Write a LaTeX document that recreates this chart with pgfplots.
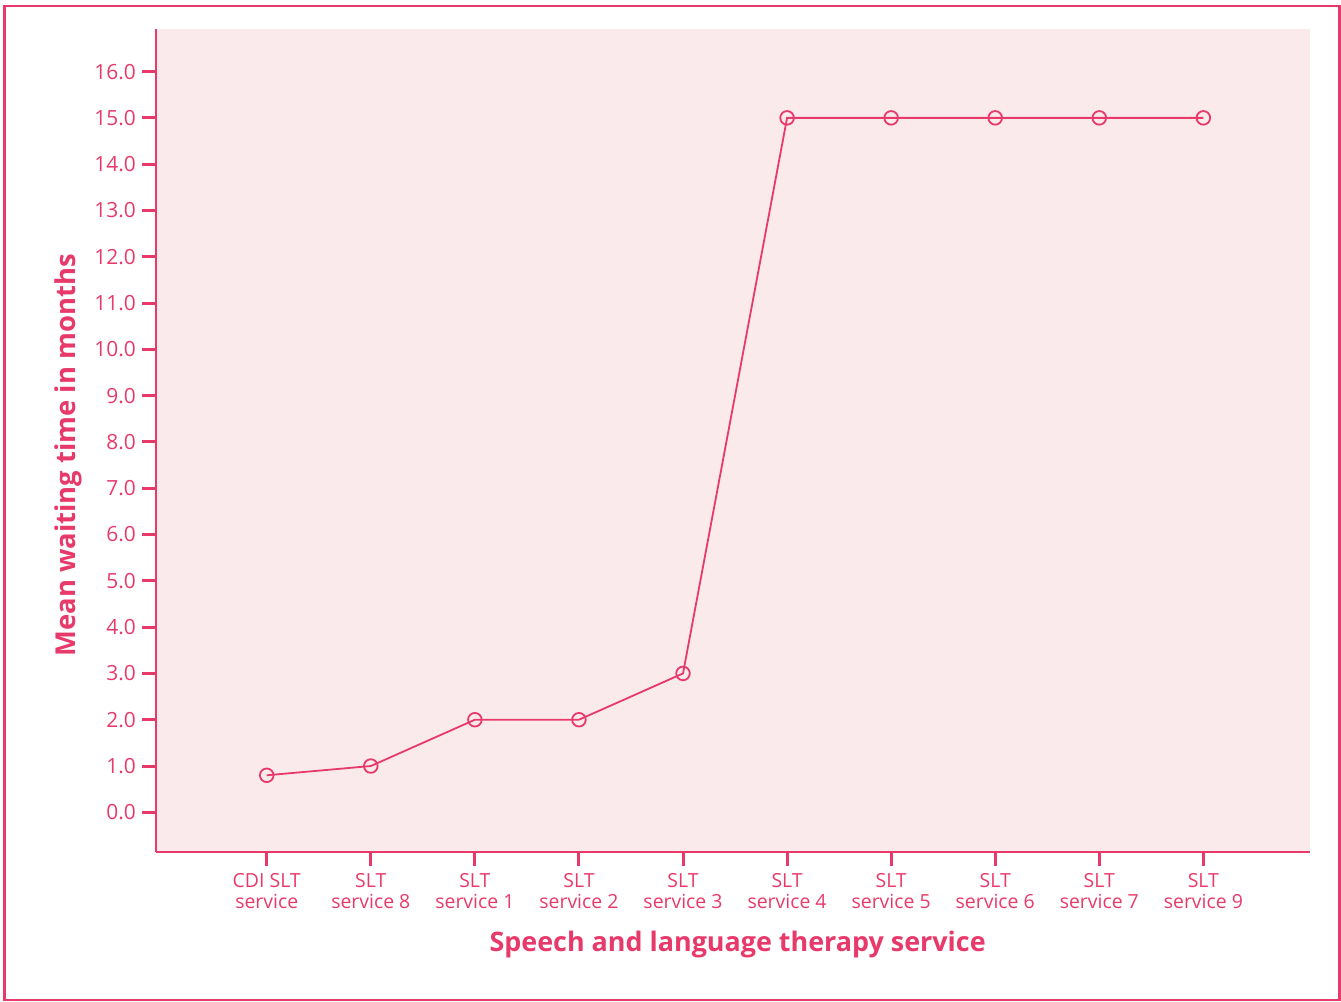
\documentclass[border=0pt]{standalone}
\usepackage{pgfplots}
\pgfplotsset{compat=1.18}
\usepackage{fontspec}
\setmainfont{Open Sans}
\definecolor{main}{RGB}{232,58,106}
\definecolor{bgpink}{RGB}{250,234,236}
\begin{document}
\begin{tikzpicture}[x=1bp,y=1bp]
\useasboundingbox (0,0) rectangle (1341,1001);
\draw[main, line width=2.5bp] (4.5,1) rectangle (1339.5,995);
\begin{axis}[
  at={(156bp,149bp)}, anchor=south west,
  scale only axis, width=1154bp, height=823bp,
  xmin=-1.064, xmax=10.025, ymin=-0.857, ymax=16.92,
  axis x line*=bottom, axis y line*=left,
  axis line style={main, line width=1.5bp, -},
  axis background/.style={fill=bgpink},
  tick align=outside, major tick length=14bp,
  every tick/.style={main, line width=3bp},
  xtick={0,...,9}, ytick={0,...,16},
  xticklabels={{CDI SLT\\service},{SLT\\service 8},{SLT\\service 1},{SLT\\service 2},{SLT\\service 3},{SLT\\service 4},{SLT\\service 5},{SLT\\service 6},{SLT\\service 7},{SLT\\service 9}},
  xticklabel style={align=center, font=\fontsize{19.5}{21}\selectfont, text=main, inner sep=1bp, yshift=-6bp},
  yticklabel style={font=\fontsize{21}{24}\selectfont, text=main, inner sep=2bp, xshift=-4bp},
  /pgf/number format/assume math mode=true,
  /pgf/number format/fixed, /pgf/number format/fixed zerofill, /pgf/number format/precision=1,
  xlabel={Speech and language therapy service},
  ylabel={Mean waiting time in months},
  xlabel style={font=\bfseries\fontsize{27}{30}\selectfont, text=main, at={(rel axis cs:0.504,-0.112)}, anchor=center},
  ylabel style={font=\bfseries\fontsize{27.5}{30}\selectfont, text=main, at={(rel axis cs:-0.0755,0.482)}, anchor=center},
  clip=false,
]
\addplot[main, line width=1.8bp, mark=o, mark size=6.8bp, mark options={line width=1.8bp, fill=none}]
coordinates {(0,0.8) (1,1.0) (2,2.0) (3,2.0) (4,3.0) (5,15.0) (6,15.0) (7,15.0) (8,15.0) (9,15.0)};
\end{axis}
\end{tikzpicture}
\end{document}
